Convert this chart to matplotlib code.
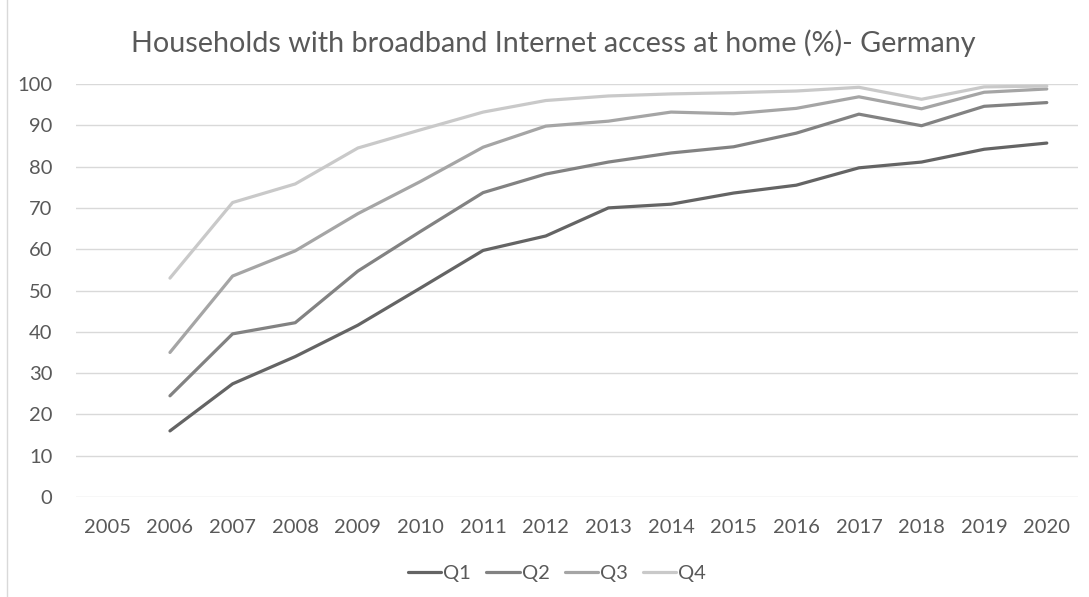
import matplotlib
matplotlib.use("Agg")
import matplotlib.pyplot as plt
from matplotlib.lines import Line2D

plt.rcParams['font.family'] = ['Lato', 'DejaVu Sans']

# Daten
years = [str(y) for y in range(2005, 2021)]
q1 = [None, 16.0, 27.4, 34.0, 41.6, 50.6, 59.7, 63.2, 70.0, 70.9, 73.6, 75.5, 79.7, 81.1, 84.2, 85.7]
q2 = [None, 24.5, 39.5, 42.2, 54.7, 64.3, 73.7, 78.2, 81.1, 83.3, 84.8, 88.1, 92.7, 89.9, 94.6, 95.5]
q3 = [None, 35.0, 53.5, 59.6, 68.6, 76.4, 84.7, 89.8, 91.0, 93.2, 92.8, 94.1, 96.9, 94.0, 98.0, 98.8]
q4 = [None, 53.0, 71.3, 75.8, 84.5, 88.9, 93.2, 96.0, 97.1, 97.6, 97.9, 98.3, 99.2, 96.3, 99.3, 99.5]

series = [('Q1', q1, '#646464'), ('Q2', q2, '#828282'),
          ('Q3', q3, '#a5a5a5'), ('Q4', q4, '#c9c9c9')]

text_col = '#595959'

fig = plt.figure(figsize=(10.89, 5.97), dpi=100)
ax = fig.add_axes([0.0698, 0.1675, 0.9202, 0.6918])

x = list(range(len(years)))
for name, vals, col in series:
    xs = [i for i, v in zip(x, vals) if v is not None]
    ys = [v for v in vals if v is not None]
    ax.plot(xs, ys, color=col, lw=2.3, label=name, solid_capstyle='round', zorder=3)

ax.set_xlim(-0.5, len(years) - 0.5)
ax.set_ylim(0, 100)
ax.set_yticks(range(0, 101, 10))
ax.set_xticks(x)
ax.set_xticklabels(years)
ax.grid(axis='y', color='#d9d9d9', lw=1.0)
ax.set_axisbelow(True)
for s in ax.spines.values():
    s.set_visible(False)
ax.tick_params(length=0, labelsize=14.5, labelcolor=text_col)
ax.tick_params(axis='y', pad=17)
ax.tick_params(axis='x', pad=16)

fig.text(0.508, 0.928, 'Households with broadband Internet access at home (%)- Germany',
         ha='center', va='center', fontsize=20.7, color=text_col)

ax.legend(loc='center', bbox_to_anchor=(0.48, -0.185), ncol=4, frameon=False,
          fontsize=14.5, labelcolor=text_col, handlelength=1.65, handletextpad=0.1,
          columnspacing=0.75)

# linke Rahmenlinie des Diagramms
fig.add_artist(Line2D([0.006, 0.006], [0, 1], color='#d9d9d9', lw=1.0))

fig.savefig('out.png', dpi=100)
